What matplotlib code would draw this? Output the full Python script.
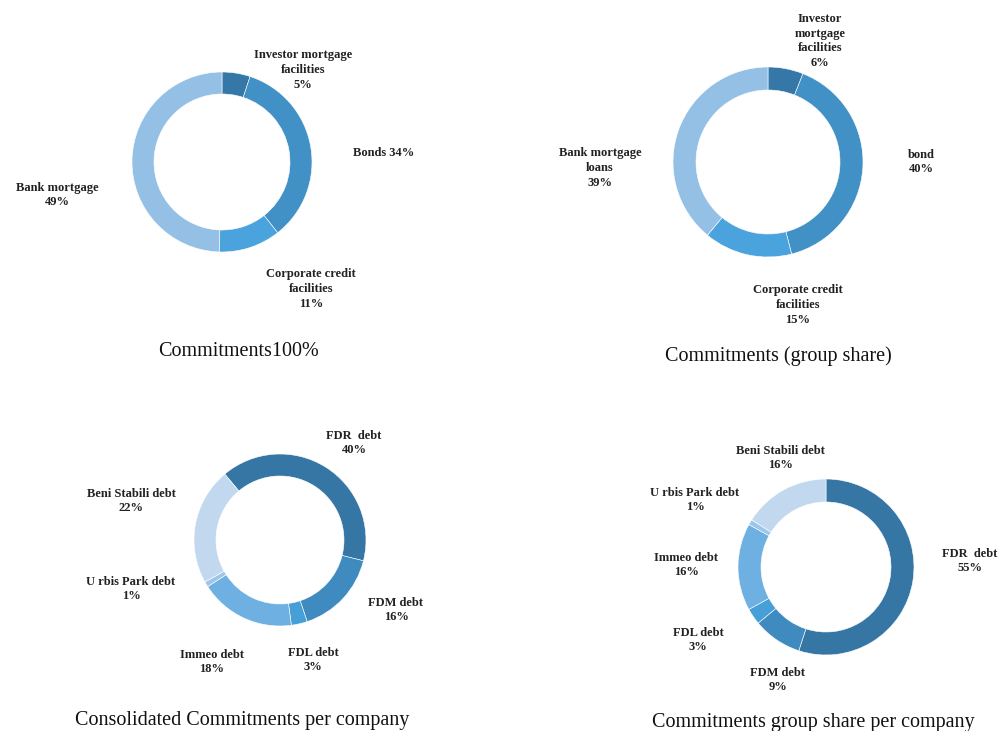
import matplotlib.pyplot as plt

# chart data
c1_labels = ['Investor mortgage\nfacilities\n5%', 'Bonds 34%', 'Corporate credit\nfacilities\n11%', 'Bank mortgage\n49%']
c1_values = [5, 34, 11, 49]
c2_labels = ['Investor\nmortgage\nfacilities\n6%', 'bond\n40%', 'Corporate credit\nfacilities\n15%', 'Bank mortgage\nloans\n39%']
c2_values = [6, 40, 15, 39]
c3_labels = ['FDR  debt\n40%', 'FDM debt\n16%', 'FDL debt\n3%', 'Immeo debt\n18%', 'U rbis Park debt\n1%', 'Beni Stabili debt\n22%']
c3_values = [40, 16, 3, 18, 1, 22]
c4_labels = ['FDR  debt\n55%', 'FDM debt\n9%', 'FDL debt\n3%', 'Immeo debt\n16%', 'U rbis Park debt\n1%', 'Beni Stabili debt\n16%']
c4_values = [55, 9, 3, 16, 1, 16]
titles = ['Commitments100%', 'Commitments (group share)',
          'Consolidated Commitments per company', 'Commitments group share per company']

cols4 = ['#3577a6', '#4291c6', '#4aa3dc', '#94c0e6']
cols6 = ['#3576a5', '#3f8bc0', '#479fd8', '#6eb0e2', '#9cc6ea', '#c2d8ef']

W, H = 1004, 731
fig = plt.figure(figsize=(W / 100, H / 100), dpi=100)
ax = fig.add_axes([0, 0, 1, 1])

FONT = 'Liberation Serif'


def donut(vals, cols, cx, cy, r, ri, start):
	ax.pie(vals, colors=cols, center=(cx, H - cy), radius=r, startangle=start,
		   counterclock=False, frame=True,
		   wedgeprops=dict(width=r - ri, edgecolor='white', linewidth=0.4))


def labels(texts, pos):
	for t, (x, y) in zip(texts, pos):
		ax.text(x, H - y, t, ha='center', va='center', fontsize=9, fontweight='bold',
				family=FONT, color='#222222', linespacing=1.32)


donut(c1_values, cols4, 222, 162, 90, 68, 90)
labels(c1_labels, [(303, 70), (384, 153), (311, 289), (57, 195)])

donut(c2_values, cols4, 768, 162, 95, 72, 90)
labels(c2_labels, [(820, 41), (921, 162), (798, 305), (600, 168)])

donut(c3_values, cols6, 280, 540, 86, 64, 130)
labels(c3_labels, [(354, 443), (396, 610), (313, 660), (212, 662), (131, 589), (131, 501)])

donut(c4_values, cols6, 826, 567, 88, 65, 90)
labels(c4_labels, [(970, 561), (778, 680), (698, 640), (686, 565), (695, 500), (780, 458)])

for t, (x, y) in zip(titles, [(239, 352), (778, 356), (242, 721), (813, 722)]):
	ax.text(x, H - y, t, ha='center', va='center', fontsize=14.5, family=FONT, color='#111111')

ax.set_xlim(0, W)
ax.set_ylim(0, H)
ax.set_aspect('equal')
ax.axis('off')

fig.savefig('out.png', dpi=100)
